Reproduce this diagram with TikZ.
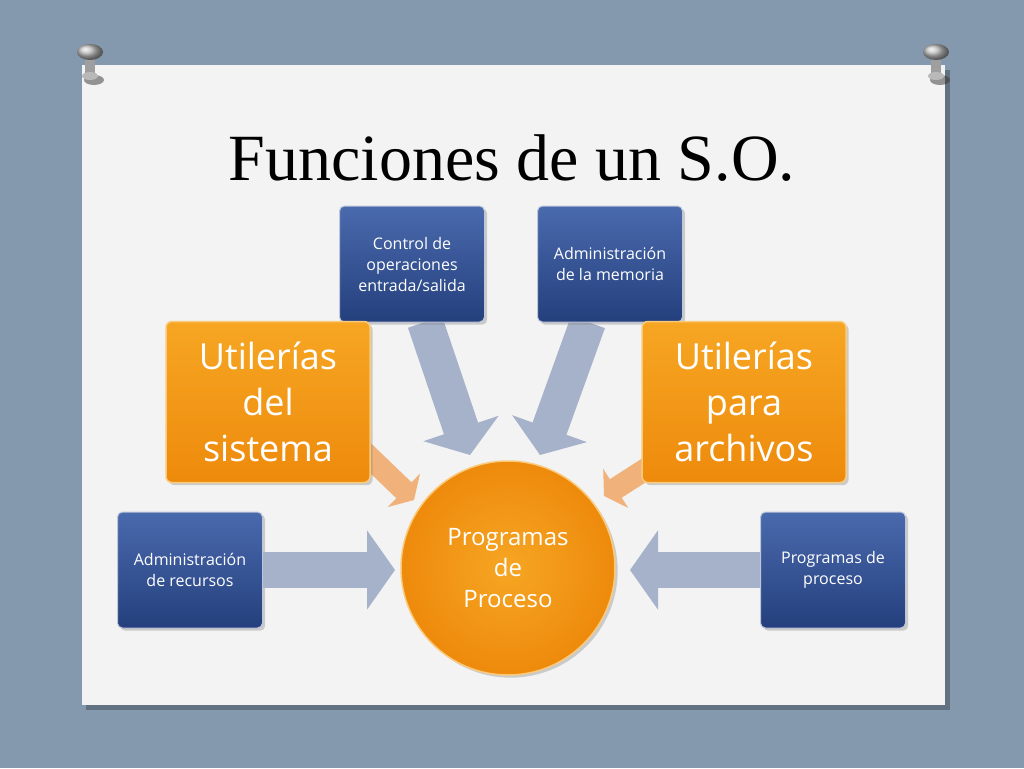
\documentclass[tikz,border=0pt]{standalone}
\usepackage{fontspec}
\setmainfont{Open Sans}
\newfontfamily\titlefont{Liberation Serif}
\usetikzlibrary{arrows.meta,shadows}
\definecolor{bgc}{HTML}{8599AE}
\definecolor{cardc}{HTML}{F3F3F3}
\definecolor{bluetop}{HTML}{4A6AAE}
\definecolor{bluebot}{HTML}{243F7C}
\definecolor{orgtop}{HTML}{F6A623}
\definecolor{orgbot}{HTML}{EE8A0C}
\definecolor{arrc}{HTML}{A6B2CA}
\definecolor{arro}{HTML}{F0B27A}
\tikzset{
 bluebox/.style={draw=white!70!bluebot,line width=1pt,rounded corners=5pt,top color=bluetop,bottom color=bluebot,
   text=white,align=center,font=\fontsize{16}{21}\selectfont,minimum width=145pt,minimum height=116pt,inner sep=3pt,drop shadow={opacity=0.35}},
 orgbox/.style={draw=orgtop!60!white,line width=1.5pt,rounded corners=6pt,top color=orgtop,bottom color=orgbot,
   text=white,align=center,font=\fontsize{36}{46}\selectfont,minimum width=204pt,minimum height=161pt,drop shadow={opacity=0.35}},
 barrow/.style={line width=36pt,draw=arrc,-{Triangle[length=28pt,width=78pt]}},
 oarrow/.style={line width=22pt,draw=arro,-{Triangle[length=14pt,width=46pt]}},
}
\begin{document}
\begin{tikzpicture}[x=1pt,y=-1pt]
\useasboundingbox (0,0) rectangle (1024,768);
\fill[bgc] (0,0) rectangle (1024,768);
\fill[black,opacity=0.25] (86,70) rectangle (950,710);
\fill[cardc] (82,65) rectangle (945,705);
% pins
\foreach \px in {90,936}{
 \fill[gray!40!black,opacity=0.5] (\px+4,80) ellipse (10 and 5);
 \fill[gray!75] (\px-5,52) rectangle (\px+5,76);
 \fill[gray!55] (\px,76) ellipse (8 and 4);
 \shade[ball color=gray!50] (\px,52) ellipse (13 and 8);
}
\node[font=\titlefont\fontsize{66}{70}\selectfont] (title) at (512,158) {Funciones de un S.O.};
\coordinate (t1s) at (425,322); \coordinate (t1e) at (470,455);
\coordinate (t2s) at (588,322); \coordinate (t2e) at (540,455);
\coordinate (o1s) at (360,448); \coordinate (o1e) at (414,500);
\coordinate (o2s) at (660,460); \coordinate (o2e) at (604,496);
\draw[barrow] (t1s) -- (t1e);
\draw[barrow] (t2s) -- (t2e);
\draw[oarrow] (o1s) -- (o1e);
\draw[oarrow] (o2s) -- (o2e);
\node[bluebox] (ctrl) at (412,264) {Control de\\operaciones\\entrada/salida};
\node[bluebox] (mem) at (610,264) {Administración\\de la memoria};
\node[orgbox] (usis) at (268,402) {Utilerías\\del\\sistema};
\node[orgbox] (uarc) at (744,402) {Utilerías\\para\\archivos};
\node[bluebox] (rec) at (190,570) {Administración\\de recursos};
\node[bluebox] (proc) at (833,570) {Programas de\\proceso};
\draw[barrow] (rec.east) -- (395,570);
\draw[barrow] (proc.west) -- (630,570);
\node[circle,minimum size=214pt,draw=orgtop!60!white,line width=1.5pt,inner color=orgtop,outer color=orgbot,
  text=white,align=center,font=\fontsize{24}{31}\selectfont,drop shadow={opacity=0.35}] (c) at (508,568) {Programas\\de\\Proceso};
\end{tikzpicture}
\end{document}
